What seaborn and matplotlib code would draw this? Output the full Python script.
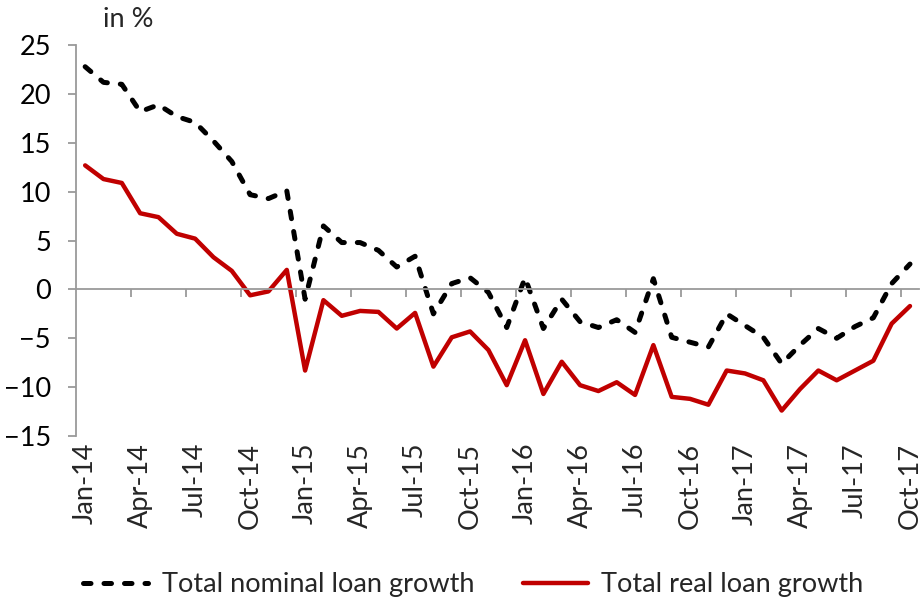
import numpy as np
import pandas as pd
import seaborn as sns
import matplotlib.pyplot as plt
from matplotlib.ticker import FixedLocator, NullFormatter

# Monthly loan growth, Jan-2014 .. Oct-2017 (in %)
months = pd.date_range("2014-01-01", "2017-10-01", freq="MS")
month_labels = [d.strftime("%b-%y") for d in months]

nominal_growth = [
    22.8, 21.2, 21.0, 18.2, 18.9, 17.7, 17.1, 15.2, 13.1, 9.7, 9.3, 10.1,
    -1.0, 6.5, 4.8, 4.8, 4.0, 2.3, 3.4, -2.5, 0.6, 1.2, -0.3, -3.9,
    1.2, -4.0, -1.0, -3.3, -3.9, -3.1, -4.4, 1.1, -4.9, -5.4, -5.9, -2.5,
    -3.7, -4.9, -7.6, -5.7, -4.0, -5.0, -3.8, -2.9, 0.6, 2.6,
]
real_growth = [
    12.7, 11.3, 10.9, 7.8, 7.4, 5.7, 5.2, 3.3, 1.9, -0.6, -0.2, 2.0,
    -8.3, -1.1, -2.7, -2.2, -2.3, -4.0, -2.4, -7.9, -4.9, -4.3, -6.2, -9.8,
    -5.2, -10.7, -7.4, -9.8, -10.4, -9.5, -10.8, -5.7, -11.0, -11.2, -11.8, -8.3,
    -8.6, -9.3, -12.4, -10.2, -8.3, -9.3, -8.3, -7.3, -3.5, -1.7,
]
y_ticks = [-15, -10, -5, 0, 5, 10, 15, 20, 25]

df = pd.DataFrame({
    "idx": np.arange(len(months)),
    "month": month_labels,
    "nominal": nominal_growth,
    "real": real_growth,
})

sns.set_theme(style="white")
plt.rcParams["font.family"] = ["Lato", "DejaVu Sans"]

fig = plt.figure(figsize=(9.21, 6.03), dpi=100)
ax = fig.add_axes([0.0825, 0.277, 0.9155, 0.648])

axis_grey = "#9A9A9A"
fs = 19.5

sns.lineplot(data=df, x="idx", y="nominal", ax=ax, color="black",
             linewidth=3.6, label="Total nominal loan growth")
ax.lines[-1].set_dashes((1.5, 2.6))
ax.lines[-1].set_dash_capstyle("round")
sns.lineplot(data=df, x="idx", y="real", ax=ax, color="#C00000",
             linewidth=3.2, label="Total real loan growth")

ax.set_xlim(-0.5, len(months) - 0.5)
ax.set_ylim(-15, 25)
ax.set_yticks(y_ticks)
ax.set_xlabel("")
ax.set_ylabel("")

# Category axis drawn along the zero line, tick marks between categories
for side in ("top", "right"):
    ax.spines[side].set_visible(False)
ax.spines["left"].set_color(axis_grey)
ax.spines["left"].set_linewidth(1.3)
ax.spines["bottom"].set_position(("data", 0))
ax.spines["bottom"].set_color(axis_grey)
ax.spines["bottom"].set_linewidth(1.3)
ax.set_xticks([])
ax.xaxis.set_minor_locator(FixedLocator(np.arange(2.5, len(months), 3)))
ax.xaxis.set_minor_formatter(NullFormatter())
ax.tick_params(axis="x", which="minor", bottom=True, length=6, width=1.3,
               color=axis_grey, direction="out")
ax.tick_params(axis="y", left=True, length=6, width=1.3, color=axis_grey,
               direction="out", pad=12, labelsize=fs, labelcolor="black")

# Month labels below the plot area
sec = ax.secondary_xaxis(0.0)
sec.set_xticks(df["idx"][::3], labels=df["month"][::3], rotation=90,
               fontsize=fs)
sec.tick_params(length=0, pad=5)
sec.spines["bottom"].set_visible(False)

ax.text(0.032, 1.035, "in %", transform=ax.transAxes, fontsize=fs,
        ha="left", va="bottom")

ax.get_legend().remove()
handles, labels = ax.get_legend_handles_labels()
fig.legend(handles, labels, loc="center", ncol=2, frameon=False,
           bbox_to_anchor=(0.514, 0.03), fontsize=fs, handlelength=2.4,
           columnspacing=1.8, handletextpad=0.5)

fig.savefig("out.png", dpi=100)
